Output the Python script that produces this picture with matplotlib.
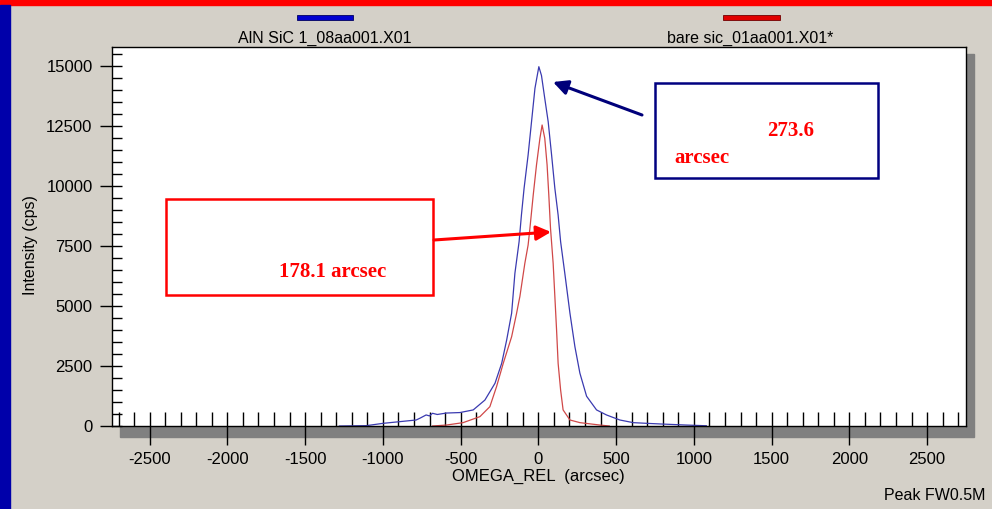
import matplotlib.pyplot as plt
from matplotlib.patches import Rectangle
from matplotlib.ticker import MultipleLocator

# omega (arcsec) / intensity (cps)
aln_omega = [-1280, -1105, -1000, -893, -786, -760, -722, -700, -681, -650, -591,
             -505, -419, -344, -279, -236, -204, -172, -151, -124, -109, -92, -66,
             -44, -22, 3, 20, 41, 63, 85, 106, 127, 143, 170, 203, 235, 267, 310,
             374, 438, 524, 610, 700, 800, 950, 1080]
aln_cps = [0, 15, 110, 180, 250, 330, 460, 420, 530, 480, 540,
           560, 670, 1080, 1780, 2610, 3580, 4700, 6360, 7680, 8790, 9900, 11290,
           12680, 14070, 14970, 14600, 13650, 12680, 11290, 9900, 8790, 7680, 6360,
           4700, 3300, 2200, 1240, 670, 460, 250, 140, 110, 80, 40, 10]

bare_omega = [-680, -591, -484, -376, -312, -269, -226, -172, -140, -125, -119, -87,
              -66, -55, -33, -12, 10, 24, 41, 56, 67, 78, 95, 106, 117, 127, 143,
              159, 203, 267, 395, 456]
bare_cps = [0, 40, 140, 390, 805, 1640, 2610, 3720, 4700, 5200, 5390, 6780,
            7540, 8200, 9630, 10880, 11990, 12540, 11990, 10880, 9630, 8240, 6780,
            5390, 4000, 2610, 1500, 670, 250, 140, 40, 0]

x_ticks = [-2500, -2000, -1500, -1000, -500, 0, 500, 1000, 1500, 2000, 2500]
y_ticks = [0, 2500, 5000, 7500, 10000, 12500, 15000]

W, H = 992, 509
bg = '#D4D0C8'
plt.rcParams['font.family'] = ['Liberation Sans', 'DejaVu Sans']
plt.rcParams['axes.unicode_minus'] = False

fig = plt.figure(figsize=(W / 100, H / 100), dpi=100, facecolor=bg)


def fx(x):
    return x / W


def fy(y):
    return (H - y) / H


# frame decorations
fig.patches.append(Rectangle((0, fy(5)), 1, 5 / H, transform=fig.transFigure,
                             color='#FF0000', zorder=0))
fig.patches.append(Rectangle((0, 0), fx(10), fy(5), transform=fig.transFigure,
                             color='#0000AA', zorder=0))
# drop shadow of the plot box
fig.patches.append(Rectangle((fx(120), fy(437)), fx(974 - 120), (437 - 54) / H,
                             transform=fig.transFigure, color='#808080', zorder=0))

ax = fig.add_axes([fx(112), fy(426), fx(966 - 112), (426 - 47) / H])
ax.set_zorder(2)
ax.set_facecolor('white')
ax.plot(aln_omega, aln_cps, color='#3A3AB0', lw=0.9)
ax.plot(bare_omega, bare_cps, color='#D04848', lw=0.9)

ax.set_xlim(-2742, 2750)
ax.set_ylim(0, 15790)
ax.set_xticks(x_ticks)
ax.set_yticks(y_ticks)
ax.xaxis.set_minor_locator(MultipleLocator(100))
ax.yaxis.set_minor_locator(MultipleLocator(500))
ax.xaxis.remove_overlapping_locs = False
ax.yaxis.remove_overlapping_locs = False
ax.tick_params(axis='x', which='major', direction='out', length=14, width=1, pad=5,
               labelsize=12)
ax.tick_params(axis='x', which='minor', direction='in', length=10, width=1)
ax.tick_params(axis='y', which='major', direction='out', length=9, width=1, pad=5,
               labelsize=12)
ax.tick_params(axis='y', which='minor', direction='in', length=7, width=1)
for s in ax.spines.values():
    s.set_linewidth(1)
    s.set_color('black')

fig.text(fx(538), fy(476), 'OMEGA_REL  (arcsec)', ha='center', va='center', fontsize=12)
fig.text(fx(30), fy(245), 'Intensity (cps)', ha='center', va='center',
         rotation=90, fontsize=11.5)
fig.text(fx(986), fy(495), 'Peak FW0.5M', ha='right', va='center', fontsize=11.5)

# legend header
fig.patches.append(Rectangle((fx(297), fy(20)), fx(56), 5 / H, transform=fig.transFigure,
                             facecolor='#0000D0', edgecolor='#000060', lw=0.6, zorder=1))
fig.patches.append(Rectangle((fx(723), fy(20)), fx(57), 5 / H, transform=fig.transFigure,
                             facecolor='#E00000', edgecolor='#700000', lw=0.6, zorder=1))
fig.text(fx(325), fy(38), 'AlN SiC 1_08aa001.X01', ha='center', va='center', fontsize=11.5)
fig.text(fx(750), fy(38), 'bare sic_01aa001.X01*', ha='center', va='center', fontsize=11.5)

# annotation boxes
fig.patches.append(Rectangle((fx(166), fy(295)), fx(433 - 166), (295 - 199) / H,
                             transform=fig.transFigure, fill=False,
                             edgecolor='#FF0000', lw=1.8, zorder=5))
fig.text(fx(333), fy(272), '178.1 arcsec', ha='center', va='center', color='#FF0000',
         fontsize=15, fontweight='bold', family='Liberation Serif', zorder=6)
fig.patches.append(Rectangle((fx(655), fy(178)), fx(878 - 655), (178 - 83) / H,
                             transform=fig.transFigure, fill=False,
                             edgecolor='#000080', lw=1.8, zorder=5))
fig.text(fx(791), fy(131), '273.6', ha='center', va='center', color='#FF0000',
         fontsize=15, fontweight='bold', family='Liberation Serif', zorder=6)
fig.text(fx(702), fy(158), 'arcsec', ha='center', va='center', color='#FF0000',
         fontsize=15, fontweight='bold', family='Liberation Serif', zorder=6)

ax.annotate('', xy=(fx(551), fy(232)), xycoords='figure fraction',
            xytext=(fx(434), fy(240)), textcoords='figure fraction',
            arrowprops=dict(arrowstyle='-|>', color='#FF0000', lw=2.2,
                            mutation_scale=22, shrinkA=0, shrinkB=0),
            annotation_clip=False)
ax.annotate('', xy=(fx(553), fy(82)), xycoords='figure fraction',
            xytext=(fx(642), fy(115)), textcoords='figure fraction',
            arrowprops=dict(arrowstyle='-|>', color='#00007A', lw=2.2,
                            mutation_scale=22, shrinkA=0, shrinkB=0),
            annotation_clip=False)

fig.savefig('out.png', dpi=100, facecolor=bg)
